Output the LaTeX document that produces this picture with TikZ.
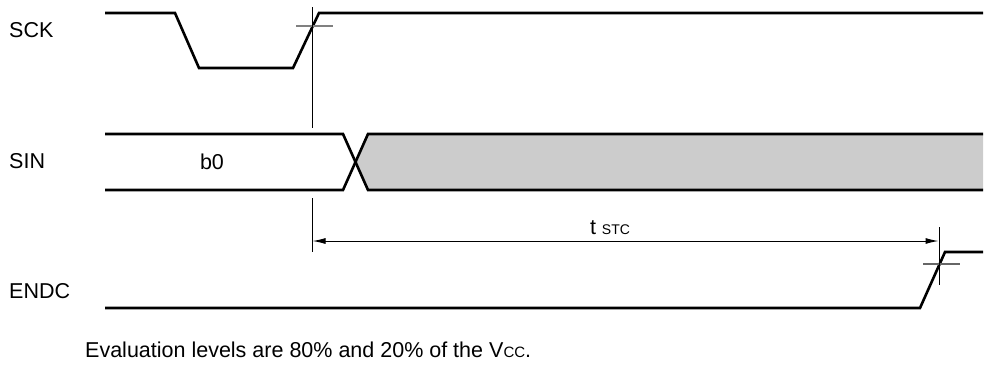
\documentclass[tikz,border=0pt]{standalone}
\usepackage{fontspec}
\setmainfont{Liberation Sans}
\usetikzlibrary{arrows.meta}
\begin{document}
\begin{tikzpicture}[x=1pt,y=-1pt,
  wave/.style={line width=2.6pt,line join=miter},
  guide/.style={line width=1pt},
  crossmark/.style={line width=1.2pt,draw=gray},
  lbl/.style={font=\fontsize{21.5}{25}\selectfont,inner sep=0pt},
  dim/.style={line width=1pt,{Latex[length=13pt,width=6pt]}-{Latex[length=13pt,width=6pt]}}]
\useasboundingbox (0,0) rectangle (990,381);
% labels
\node[lbl,anchor=west] (sck) at (9,30) {SCK};
\node[lbl,anchor=west] (sin) at (9,161) {SIN};
\node[lbl,anchor=west] (endc) at (9,291) {ENDC};
\node[lbl] (b0) at (212,162) {b0};
% SCK waveform
\draw[wave] (105,13) -- (175,13) -- (199,68) -- (293,68) -- (319,13) -- (983,13);
\draw[crossmark] (296,26) -- (333,26);
% SIN waveform
\fill[gray!40] (368,134) -- (983,134) -- (983,190) -- (368,190) -- (355.5,162) -- cycle;
\draw[wave] (105,134) -- (343,134) -- (368,190) -- (983,190);
\draw[wave] (105,190) -- (343,190) -- (368,134) -- (983,134);
% ENDC waveform
\draw[wave] (105,308) -- (920,308) -- (945,252) -- (983,252);
\draw[crossmark,draw=black!60] (923,264) -- (960,264);
% guides
\coordinate (g1t) at (312,7);
\coordinate (g1b) at (312,128);
\coordinate (g2t) at (312,198);
\coordinate (g2b) at (312,252);
\coordinate (g3t) at (939,227);
\coordinate (g3b) at (939,285);
\draw[guide] (g1t) -- (g1b);
\draw[guide] (g2t) -- (g2b);
\draw[guide] (g3t) -- (g3b);
\coordinate (al) at (312.5,241);
\coordinate (ar) at (938.5,241);
\draw[dim] (al) -- (ar);
\node[lbl,anchor=base] (tstc) at (610,234) {t {\fontsize{14}{16}\selectfont STC}};
% note
\node[lbl,anchor=west] (note) at (85,350) {Evaluation levels are 80\% and 20\% of the V{\fontsize{15}{17}\selectfont CC}.};
\end{tikzpicture}
\end{document}
